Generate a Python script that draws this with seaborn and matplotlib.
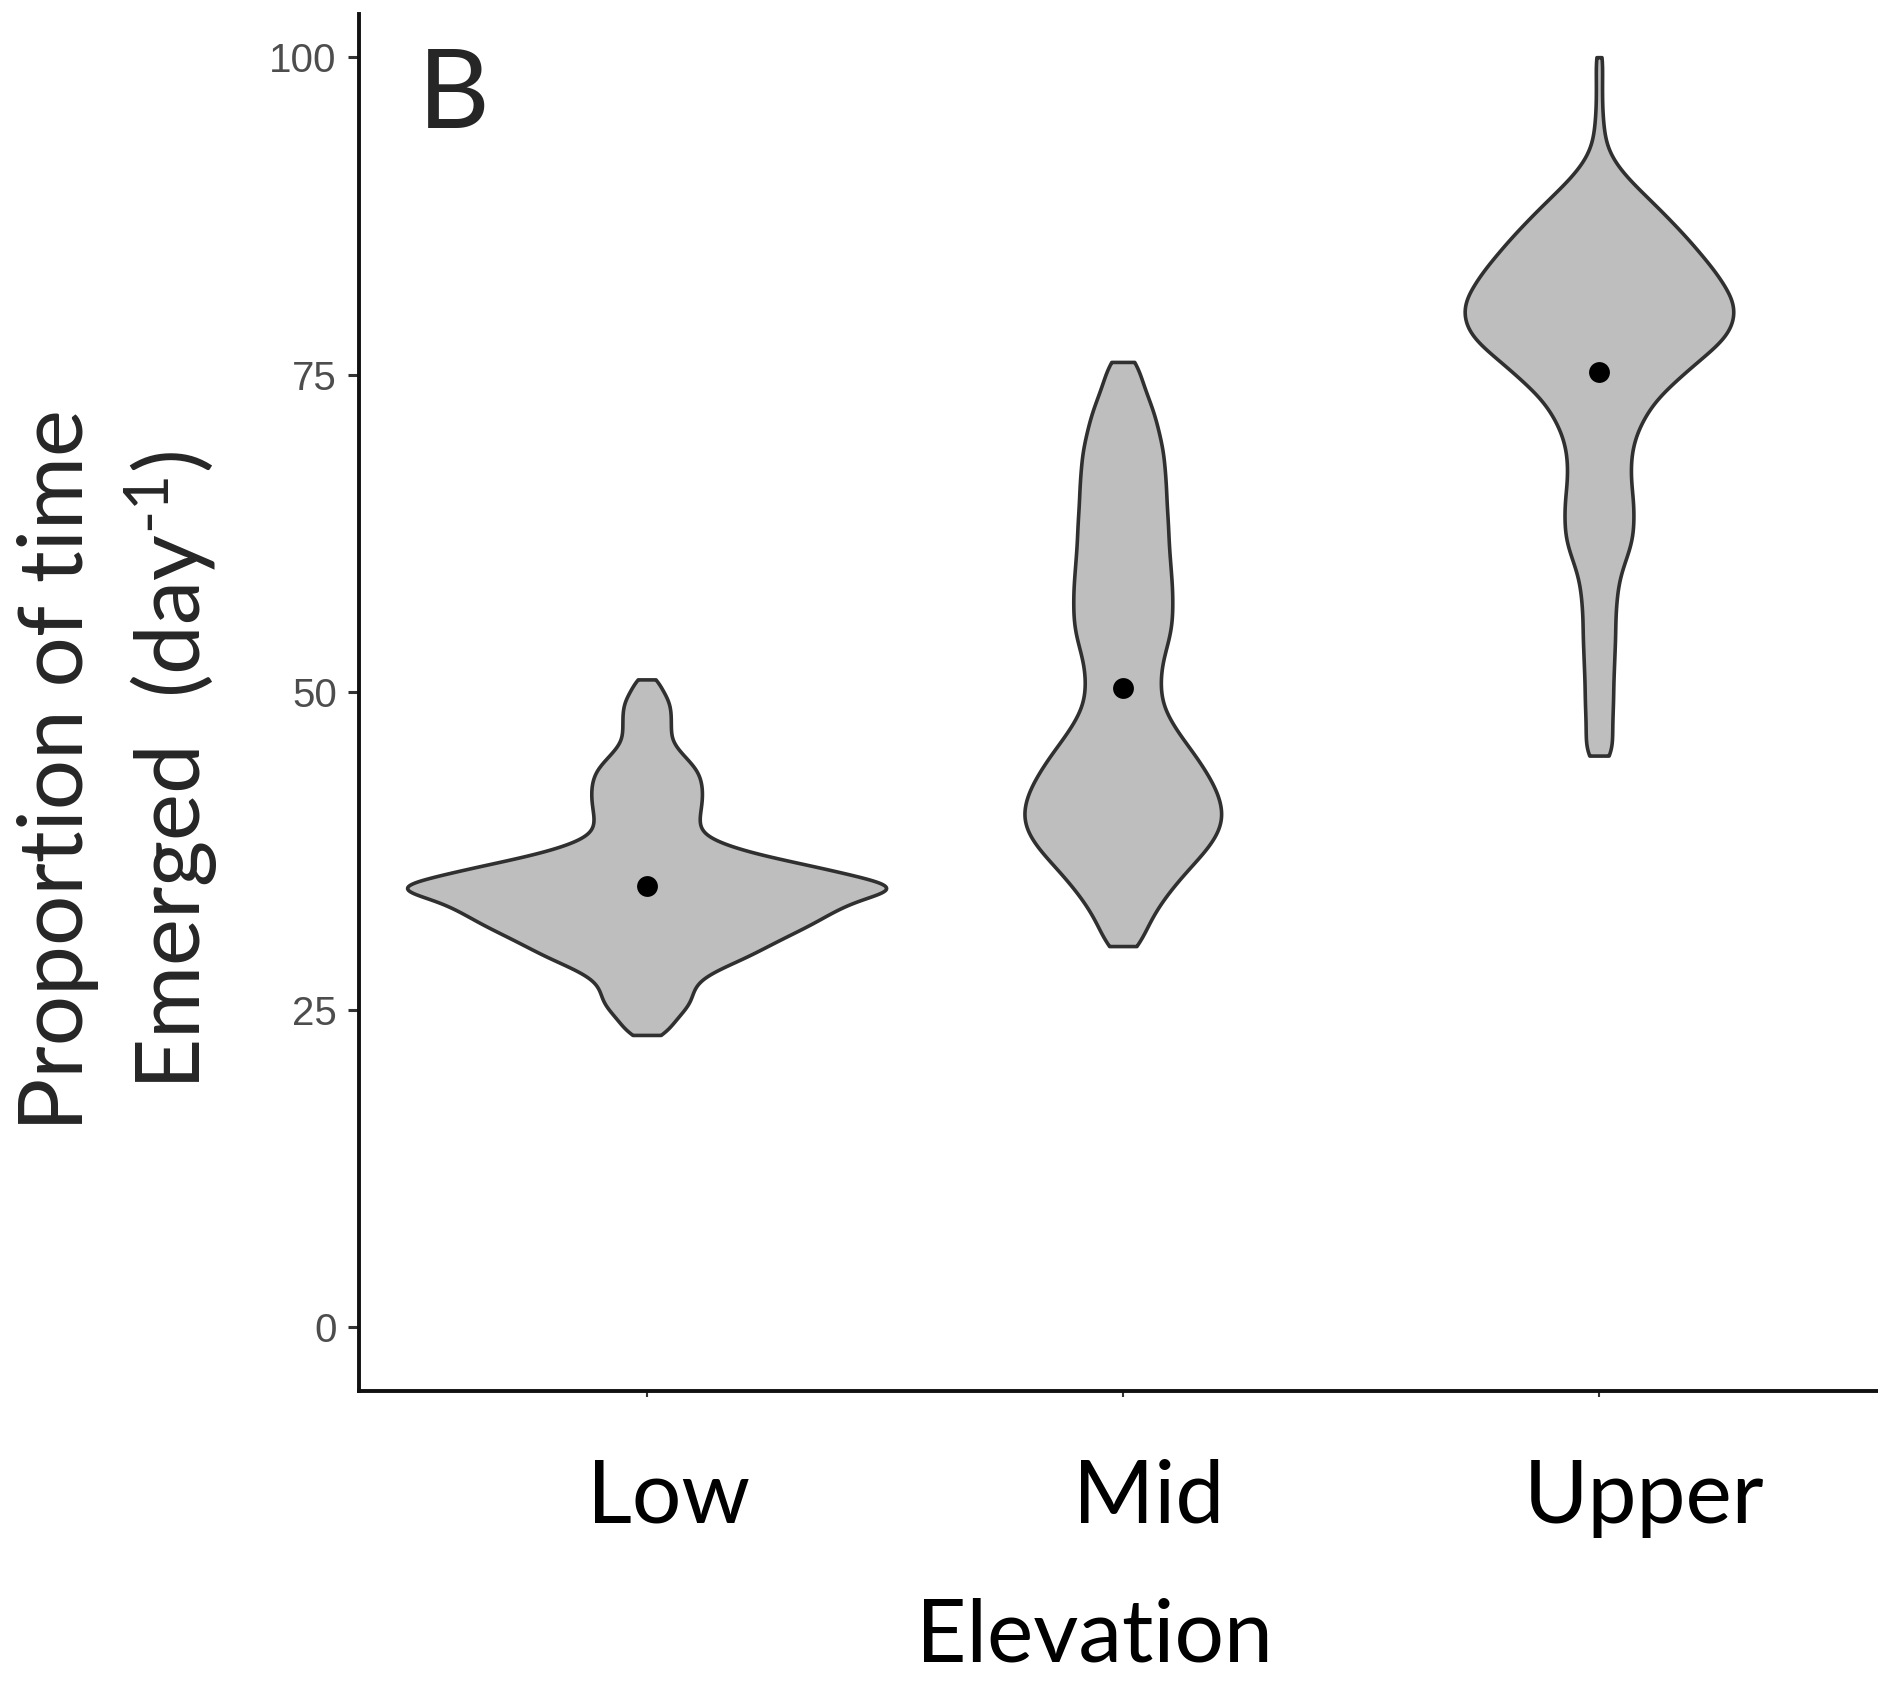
import numpy as np
import pandas as pd
import matplotlib
matplotlib.use("Agg")
import matplotlib.pyplot as plt
import matplotlib.transforms as mtransforms
import seaborn as sns

# ---- data -------------------------------------------------------------
elevations = ["Low", "Mid", "Upper"]

# Daily proportion of time emerged, stored as value levels and frequencies
low_levels = np.arange(23.0, 51.01, 0.5)
low_counts = [18, 22, 27, 32, 38, 43, 45, 46, 49, 55,
              67, 80, 96, 108, 120, 132, 145, 158, 170, 180,
              192, 205, 222, 262, 236, 209, 183, 154, 122, 97,
              77, 61, 54, 52, 52, 53, 54, 55, 55, 55,
              54, 52, 49, 43, 37, 31, 26, 24, 24, 24,
              24, 24, 23, 21, 17, 13, 12]

mid_levels = np.arange(30.0, 76.01, 1.0)
mid_counts = [17, 21, 27, 34, 43, 53, 64, 76, 87, 95,
              99, 98, 94, 88, 80, 72, 62, 53, 45, 39,
              37, 37, 38, 41, 45, 48, 49, 49, 49, 48,
              47, 46, 45, 45, 44, 43, 43, 42, 41, 40,
              37, 34, 31, 26, 21, 17, 15]

upper_levels = np.arange(45.0, 100.01, 1.0)
upper_counts = [14, 13, 13, 13, 14, 14, 14, 15, 15, 16,
                16, 16, 17, 18, 20, 24, 29, 33, 34, 34,
                34, 32, 31, 31, 32, 35, 40, 47, 55, 68,
                82, 96, 112, 126, 132, 134, 132, 123, 116, 105,
                95, 84, 72, 60, 47, 34, 22, 13, 7, 5,
                4, 3, 3, 3, 3, 4]

group_means = [34.7, 50.3, 75.2]
y_ticks = [0, 25, 50, 75, 100]

# ---- style ------------------------------------------------------------
sns.set_theme(style="ticks")
plt.rcParams["font.family"] = ["Lato", "DejaVu Sans"]
plt.rcParams["mathtext.fontset"] = "custom"
plt.rcParams["mathtext.rm"] = "Lato"
plt.rcParams["mathtext.it"] = "Lato:italic"
plt.rcParams["mathtext.bf"] = "Lato:bold"

frames = []
for name, lv, ct in zip(elevations,
                        [low_levels, mid_levels, upper_levels],
                        [low_counts, mid_counts, upper_counts]):
    frames.append(pd.DataFrame({"Elevation": name,
                                "Emerged": np.repeat(lv, ct)}))
df = pd.concat(frames, ignore_index=True)

W, H = 1878, 1701
fig = plt.figure(figsize=(W / 100, H / 100), dpi=100)
ax = fig.add_axes([359 / W, 1 - 1390.5 / H, 1 - 359 / W, (1390.5 - 14) / H])

# kernel bandwidth (in data units) and drawn width for each violin
bandwidth = {"Low": 0.55, "Mid": 1.0, "Upper": 1.0}
widths = {"Low": 1.006, "Mid": 0.413, "Upper": 0.564}

for name in elevations:
    sub = df[df["Elevation"] == name]
    sns.violinplot(data=sub, x="Elevation", y="Emerged", order=elevations,
                   ax=ax, color="#BEBEBE", saturation=1,
                   linecolor="#303030", linewidth=2.6, inner=None, cut=0,
                   gridsize=400, density_norm="width", width=widths[name],
                   bw_method=bandwidth[name] / sub["Emerged"].std())

sns.stripplot(x=elevations, y=group_means, order=elevations, jitter=False,
              color="black", size=15, linewidth=0, ax=ax, zorder=5)

# ---- axes -------------------------------------------------------------
ax.set_xlim(-0.604, 2.586)
ax.set_ylim(-5, 103.4)
ax.set_yticks(y_ticks)
ax.set_yticklabels([str(t) for t in y_ticks], fontfamily="Liberation Sans",
                   fontsize=29, color="#4D4D4D")
ax.tick_params(axis="y", length=8, width=2.2, color="#333333", pad=8)
ax.tick_params(axis="x", length=4, width=1.5, color="#333333", pad=45,
               labelsize=63, labelcolor="black")
sns.despine(ax=ax)
for side in ["left", "bottom"]:
    ax.spines[side].set_linewidth(2.8)
    ax.spines[side].set_color("#111111")

ax.set_ylabel("")
ax.set_xlabel("Elevation", fontsize=63, color="black")
ax.xaxis.set_label_coords(0.4839, -0.1507)

for lbl, dx in zip(ax.get_xticklabels(), [22, 26, 45]):
    lbl.set_transform(lbl.get_transform() +
                      mtransforms.ScaledTranslation(dx / 100, 0, fig.dpi_scale_trans))

# two-line axis title
fig.text(83 / W, 1 - 770 / H, "Proportion of time", fontsize=64,
         rotation=90, rotation_mode="anchor", ha="center", va="baseline")
fig.text(201 / W, 1 - 770 / H, r"Emerged  (day$^{\text{-}1}$)", fontsize=64,
         rotation=90, rotation_mode="anchor", ha="center", va="baseline")

# panel letter
fig.text(418 / W, 1 - 128 / H, "B", fontsize=80, ha="left", va="baseline")

fig.savefig("out.png", dpi=100, facecolor="white")
